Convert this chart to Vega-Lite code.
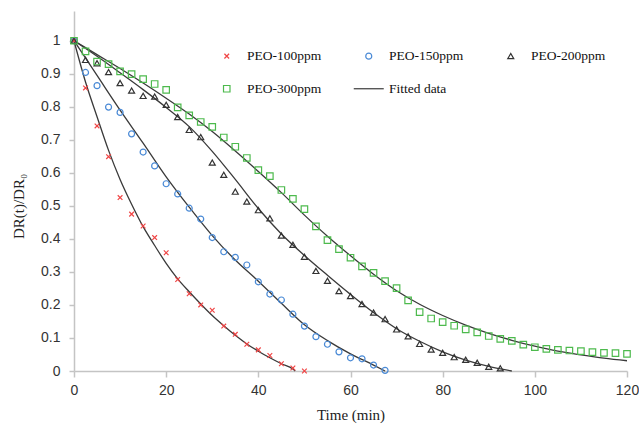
{
  "$schema": "https://vega.github.io/schema/vega-lite/v6.json",
  "width": 553,
  "height": 360,
  "autosize": {"type": "none"},
  "padding": {"left": 74, "top": 11, "right": 12, "bottom": 56},
  "background": "white",
  "config": {"view": {"stroke": null}},
  "datasets": {
    "fits": [
      {"c": "100", "t": 0, "y": 1}, {"c": "100", "t": 2.5, "y": 0.875}, {"c": "100", "t": 5, "y": 0.77}, {"c": "100", "t": 7.5, "y": 0.668}, {"c": "100", "t": 10, "y": 0.58}, {"c": "100", "t": 12.5, "y": 0.505}, {"c": "100", "t": 15, "y": 0.437}, {"c": "100", "t": 17.5, "y": 0.38}, {"c": "100", "t": 20, "y": 0.326}, {"c": "100", "t": 22.5, "y": 0.279}, {"c": "100", "t": 25, "y": 0.24}, {"c": "100", "t": 27.5, "y": 0.203}, {"c": "100", "t": 30, "y": 0.168}, {"c": "100", "t": 32.5, "y": 0.137}, {"c": "100", "t": 35, "y": 0.108}, {"c": "100", "t": 37.5, "y": 0.082}, {"c": "100", "t": 40, "y": 0.06}, {"c": "100", "t": 42.5, "y": 0.04}, {"c": "100", "t": 45, "y": 0.022}, {"c": "100", "t": 47.5, "y": 0.006}, {"c": "100", "t": 48, "y": 0},
      {"c": "150", "t": 0, "y": 1}, {"c": "150", "t": 5, "y": 0.895}, {"c": "150", "t": 10, "y": 0.79}, {"c": "150", "t": 15, "y": 0.69}, {"c": "150", "t": 20, "y": 0.588}, {"c": "150", "t": 25, "y": 0.496}, {"c": "150", "t": 30, "y": 0.41}, {"c": "150", "t": 35, "y": 0.336}, {"c": "150", "t": 40, "y": 0.272}, {"c": "150", "t": 45, "y": 0.205}, {"c": "150", "t": 50, "y": 0.14}, {"c": "150", "t": 55, "y": 0.092}, {"c": "150", "t": 60, "y": 0.052}, {"c": "150", "t": 65, "y": 0.018}, {"c": "150", "t": 67.5, "y": 0},
      {"c": "200", "t": 0, "y": 1}, {"c": "200", "t": 5, "y": 0.953}, {"c": "200", "t": 10, "y": 0.903}, {"c": "200", "t": 15, "y": 0.852}, {"c": "200", "t": 20, "y": 0.798}, {"c": "200", "t": 25, "y": 0.74}, {"c": "200", "t": 30, "y": 0.665}, {"c": "200", "t": 35, "y": 0.58}, {"c": "200", "t": 40, "y": 0.492}, {"c": "200", "t": 45, "y": 0.415}, {"c": "200", "t": 50, "y": 0.35}, {"c": "200", "t": 55, "y": 0.29}, {"c": "200", "t": 60, "y": 0.232}, {"c": "200", "t": 65, "y": 0.177}, {"c": "200", "t": 70, "y": 0.128}, {"c": "200", "t": 75, "y": 0.09}, {"c": "200", "t": 80, "y": 0.058}, {"c": "200", "t": 85, "y": 0.033}, {"c": "200", "t": 90, "y": 0.014}, {"c": "200", "t": 95, "y": 0},
      {"c": "300", "t": 0, "y": 1}, {"c": "300", "t": 5, "y": 0.958}, {"c": "300", "t": 10, "y": 0.916}, {"c": "300", "t": 15, "y": 0.872}, {"c": "300", "t": 20, "y": 0.826}, {"c": "300", "t": 25, "y": 0.778}, {"c": "300", "t": 30, "y": 0.725}, {"c": "300", "t": 35, "y": 0.666}, {"c": "300", "t": 40, "y": 0.604}, {"c": "300", "t": 45, "y": 0.54}, {"c": "300", "t": 50, "y": 0.472}, {"c": "300", "t": 55, "y": 0.408}, {"c": "300", "t": 60, "y": 0.349}, {"c": "300", "t": 65, "y": 0.293}, {"c": "300", "t": 70, "y": 0.243}, {"c": "300", "t": 75, "y": 0.202}, {"c": "300", "t": 80, "y": 0.168}, {"c": "300", "t": 85, "y": 0.139}, {"c": "300", "t": 90, "y": 0.114}, {"c": "300", "t": 95, "y": 0.093}, {"c": "300", "t": 100, "y": 0.075}, {"c": "300", "t": 105, "y": 0.06}, {"c": "300", "t": 110, "y": 0.049}, {"c": "300", "t": 115, "y": 0.039}, {"c": "300", "t": 120, "y": 0.031}
    ],
    "points": [
      {"s": "PEO-100ppm", "t": 0, "y": 1}, {"s": "PEO-100ppm", "t": 2.5, "y": 0.857}, {"s": "PEO-100ppm", "t": 5, "y": 0.742}, {"s": "PEO-100ppm", "t": 7.5, "y": 0.649}, {"s": "PEO-100ppm", "t": 10, "y": 0.525}, {"s": "PEO-100ppm", "t": 12.5, "y": 0.475}, {"s": "PEO-100ppm", "t": 15, "y": 0.439}, {"s": "PEO-100ppm", "t": 17.5, "y": 0.404}, {"s": "PEO-100ppm", "t": 20, "y": 0.358}, {"s": "PEO-100ppm", "t": 22.5, "y": 0.277}, {"s": "PEO-100ppm", "t": 25, "y": 0.234}, {"s": "PEO-100ppm", "t": 27.5, "y": 0.2}, {"s": "PEO-100ppm", "t": 30, "y": 0.184}, {"s": "PEO-100ppm", "t": 32.5, "y": 0.136}, {"s": "PEO-100ppm", "t": 35, "y": 0.111}, {"s": "PEO-100ppm", "t": 37.5, "y": 0.081}, {"s": "PEO-100ppm", "t": 40, "y": 0.064}, {"s": "PEO-100ppm", "t": 42.5, "y": 0.047}, {"s": "PEO-100ppm", "t": 45, "y": 0.022}, {"s": "PEO-100ppm", "t": 47.5, "y": 0.009}, {"s": "PEO-100ppm", "t": 50, "y": 0},
      {"s": "PEO-150ppm", "t": 0, "y": 1}, {"s": "PEO-150ppm", "t": 2.5, "y": 0.904}, {"s": "PEO-150ppm", "t": 5, "y": 0.864}, {"s": "PEO-150ppm", "t": 7.5, "y": 0.799}, {"s": "PEO-150ppm", "t": 10, "y": 0.783}, {"s": "PEO-150ppm", "t": 12.5, "y": 0.718}, {"s": "PEO-150ppm", "t": 15, "y": 0.663}, {"s": "PEO-150ppm", "t": 17.5, "y": 0.621}, {"s": "PEO-150ppm", "t": 20, "y": 0.567}, {"s": "PEO-150ppm", "t": 22.5, "y": 0.536}, {"s": "PEO-150ppm", "t": 25, "y": 0.493}, {"s": "PEO-150ppm", "t": 27.5, "y": 0.46}, {"s": "PEO-150ppm", "t": 30, "y": 0.404}, {"s": "PEO-150ppm", "t": 32.5, "y": 0.361}, {"s": "PEO-150ppm", "t": 35, "y": 0.344}, {"s": "PEO-150ppm", "t": 37.5, "y": 0.321}, {"s": "PEO-150ppm", "t": 40, "y": 0.27}, {"s": "PEO-150ppm", "t": 42.5, "y": 0.233}, {"s": "PEO-150ppm", "t": 45, "y": 0.215}, {"s": "PEO-150ppm", "t": 47.5, "y": 0.172}, {"s": "PEO-150ppm", "t": 50, "y": 0.136}, {"s": "PEO-150ppm", "t": 52.5, "y": 0.104}, {"s": "PEO-150ppm", "t": 55, "y": 0.081}, {"s": "PEO-150ppm", "t": 57.5, "y": 0.058}, {"s": "PEO-150ppm", "t": 60, "y": 0.04}, {"s": "PEO-150ppm", "t": 62.5, "y": 0.037}, {"s": "PEO-150ppm", "t": 65, "y": 0.018}, {"s": "PEO-150ppm", "t": 67.5, "y": 0.002},
      {"s": "PEO-200ppm", "t": 0, "y": 1}, {"s": "PEO-200ppm", "t": 2.5, "y": 0.942}, {"s": "PEO-200ppm", "t": 5, "y": 0.932}, {"s": "PEO-200ppm", "t": 7.5, "y": 0.905}, {"s": "PEO-200ppm", "t": 10, "y": 0.872}, {"s": "PEO-200ppm", "t": 12.5, "y": 0.849}, {"s": "PEO-200ppm", "t": 15, "y": 0.833}, {"s": "PEO-200ppm", "t": 17.5, "y": 0.831}, {"s": "PEO-200ppm", "t": 20, "y": 0.806}, {"s": "PEO-200ppm", "t": 22.5, "y": 0.769}, {"s": "PEO-200ppm", "t": 25, "y": 0.73}, {"s": "PEO-200ppm", "t": 27.5, "y": 0.708}, {"s": "PEO-200ppm", "t": 30, "y": 0.631}, {"s": "PEO-200ppm", "t": 32.5, "y": 0.594}, {"s": "PEO-200ppm", "t": 35, "y": 0.543}, {"s": "PEO-200ppm", "t": 37.5, "y": 0.513}, {"s": "PEO-200ppm", "t": 40, "y": 0.487}, {"s": "PEO-200ppm", "t": 42.5, "y": 0.462}, {"s": "PEO-200ppm", "t": 45, "y": 0.41}, {"s": "PEO-200ppm", "t": 47.5, "y": 0.382}, {"s": "PEO-200ppm", "t": 50, "y": 0.346}, {"s": "PEO-200ppm", "t": 52.5, "y": 0.303}, {"s": "PEO-200ppm", "t": 55, "y": 0.273}, {"s": "PEO-200ppm", "t": 57.5, "y": 0.242}, {"s": "PEO-200ppm", "t": 60, "y": 0.227}, {"s": "PEO-200ppm", "t": 62.5, "y": 0.203}, {"s": "PEO-200ppm", "t": 65, "y": 0.177}, {"s": "PEO-200ppm", "t": 67.5, "y": 0.157}, {"s": "PEO-200ppm", "t": 70, "y": 0.126}, {"s": "PEO-200ppm", "t": 72.5, "y": 0.105}, {"s": "PEO-200ppm", "t": 75, "y": 0.082}, {"s": "PEO-200ppm", "t": 77.5, "y": 0.065}, {"s": "PEO-200ppm", "t": 80, "y": 0.055}, {"s": "PEO-200ppm", "t": 82.5, "y": 0.042}, {"s": "PEO-200ppm", "t": 85, "y": 0.034}, {"s": "PEO-200ppm", "t": 87.5, "y": 0.025}, {"s": "PEO-200ppm", "t": 90, "y": 0.013}, {"s": "PEO-200ppm", "t": 92.5, "y": 0.008},
      {"s": "PEO-300ppm", "t": 0, "y": 1}, {"s": "PEO-300ppm", "t": 2.5, "y": 0.968}, {"s": "PEO-300ppm", "t": 5, "y": 0.937}, {"s": "PEO-300ppm", "t": 7.5, "y": 0.929}, {"s": "PEO-300ppm", "t": 10, "y": 0.907}, {"s": "PEO-300ppm", "t": 12.5, "y": 0.899}, {"s": "PEO-300ppm", "t": 15, "y": 0.884}, {"s": "PEO-300ppm", "t": 17.5, "y": 0.869}, {"s": "PEO-300ppm", "t": 20, "y": 0.851}, {"s": "PEO-300ppm", "t": 22.5, "y": 0.798}, {"s": "PEO-300ppm", "t": 25, "y": 0.774}, {"s": "PEO-300ppm", "t": 27.5, "y": 0.754}, {"s": "PEO-300ppm", "t": 30, "y": 0.739}, {"s": "PEO-300ppm", "t": 32.5, "y": 0.707}, {"s": "PEO-300ppm", "t": 35, "y": 0.679}, {"s": "PEO-300ppm", "t": 37.5, "y": 0.645}, {"s": "PEO-300ppm", "t": 40, "y": 0.608}, {"s": "PEO-300ppm", "t": 42.5, "y": 0.59}, {"s": "PEO-300ppm", "t": 45, "y": 0.548}, {"s": "PEO-300ppm", "t": 47.5, "y": 0.521}, {"s": "PEO-300ppm", "t": 50, "y": 0.49}, {"s": "PEO-300ppm", "t": 52.5, "y": 0.438}, {"s": "PEO-300ppm", "t": 55, "y": 0.396}, {"s": "PEO-300ppm", "t": 57.5, "y": 0.369}, {"s": "PEO-300ppm", "t": 60, "y": 0.343}, {"s": "PEO-300ppm", "t": 62.5, "y": 0.317}, {"s": "PEO-300ppm", "t": 65, "y": 0.297}, {"s": "PEO-300ppm", "t": 67.5, "y": 0.272}, {"s": "PEO-300ppm", "t": 70, "y": 0.251}, {"s": "PEO-300ppm", "t": 72.5, "y": 0.214}, {"s": "PEO-300ppm", "t": 75, "y": 0.178}, {"s": "PEO-300ppm", "t": 77.5, "y": 0.159}, {"s": "PEO-300ppm", "t": 80, "y": 0.148}, {"s": "PEO-300ppm", "t": 82.5, "y": 0.137}, {"s": "PEO-300ppm", "t": 85, "y": 0.126}, {"s": "PEO-300ppm", "t": 87.5, "y": 0.117}, {"s": "PEO-300ppm", "t": 90, "y": 0.106}, {"s": "PEO-300ppm", "t": 92.5, "y": 0.097}, {"s": "PEO-300ppm", "t": 95, "y": 0.091}, {"s": "PEO-300ppm", "t": 97.5, "y": 0.08}, {"s": "PEO-300ppm", "t": 100, "y": 0.072}, {"s": "PEO-300ppm", "t": 102.5, "y": 0.067}, {"s": "PEO-300ppm", "t": 105, "y": 0.064}, {"s": "PEO-300ppm", "t": 107.5, "y": 0.062}, {"s": "PEO-300ppm", "t": 110, "y": 0.06}, {"s": "PEO-300ppm", "t": 112.5, "y": 0.057}, {"s": "PEO-300ppm", "t": 115, "y": 0.055}, {"s": "PEO-300ppm", "t": 117.5, "y": 0.054}, {"s": "PEO-300ppm", "t": 120, "y": 0.052}
    ]
  },
  "encoding": {
    "x": {
      "field": "t", "type": "quantitative",
      "scale": {"domain": [0, 120], "nice": false, "zero": false},
      "axis": {
        "title": "Time (min)", "values": [0, 20, 40, 60, 80, 100, 120], "grid": false,
        "domainColor": "#c4c4c4", "domainWidth": 1.5, "tickColor": "#c4c4c4", "tickWidth": 1.5, "tickSize": 6,
        "labelFont": "Liberation Sans", "labelFontSize": 14, "labelColor": "#333333", "labelPadding": 6,
        "labelFlush": false, "labelOverlap": false,
        "titleFont": "Liberation Serif", "titleFontSize": 15, "titleFontWeight": "normal", "titleColor": "#222222", "titlePadding": 10
      }
    },
    "y": {
      "field": "y", "type": "quantitative",
      "scale": {"domain": [0, 1.09], "nice": false, "zero": false},
      "axis": {
        "title": "DR(t)/DR₀", "values": [0, 0.1, 0.2, 0.3, 0.4, 0.5, 0.6, 0.7, 0.8, 0.9, 1], "format": "~g", "grid": false,
        "labelOverlap": false, "labelFlush": false, "tickCount": 11,
        "domainColor": "#c4c4c4", "domainWidth": 1.5, "tickColor": "#c4c4c4", "tickWidth": 1.5, "tickSize": 5,
        "labelFont": "Liberation Sans", "labelFontSize": 14, "labelColor": "#333333", "labelPadding": 9,
        "titleFont": "Liberation Serif", "titleFontSize": 15, "titleFontWeight": "normal", "titleColor": "#222222",
        "titleX": -56, "titleY": 195, "titleBaseline": "middle"
      }
    }
  },
  "layer": [
    {
      "data": {"name": "fits"},
      "mark": {"type": "line", "color": "#3a3a3a", "strokeWidth": 1.3, "interpolate": "monotone", "clip": false},
      "encoding": {
        "detail": {"field": "c", "type": "nominal"}
      }
    },
    {
      "data": {"name": "points"},
      "mark": {"type": "point", "filled": false, "strokeWidth": 1.2, "opacity": 1, "clip": false},
      "encoding": {
        "color": {
          "field": "s", "type": "nominal",
          "scale": {"domain": ["PEO-100ppm", "PEO-150ppm", "PEO-200ppm", "PEO-300ppm", "Fitted data"], "range": ["#f04545", "#4a8ad6", "#333333", "#4dba4d", "#3a3a3a"]},
          "legend": {
            "title": null, "orient": "none", "legendX": 146, "legendY": 38, "direction": "horizontal", "columns": 3,
            "gridAlign": "all", "columnPadding": 29, "rowPadding": 18, "padding": 0,
            "labelFont": "Liberation Serif", "labelFontSize": 13.5, "labelColor": "#111111", "labelOffset": 13.5,
            "symbolStrokeWidth": 1.2
          }
        },
        "shape": {
          "field": "s", "type": "nominal",
          "scale": {"domain": ["PEO-100ppm", "PEO-150ppm", "PEO-200ppm", "PEO-300ppm", "Fitted data"], "range": ["M-1,-1L1,1M-1,1L1,-1", "circle", "triangle-up", "square", "M-3,0L3,0"]}
        },
        "size": {
          "field": "s", "type": "nominal",
          "scale": {"type": "ordinal", "domain": ["PEO-100ppm", "PEO-150ppm", "PEO-200ppm", "PEO-300ppm", "Fitted data"], "range": [22, 36, 36, 42, 100]}
        }
      }
    }
  ]
}
